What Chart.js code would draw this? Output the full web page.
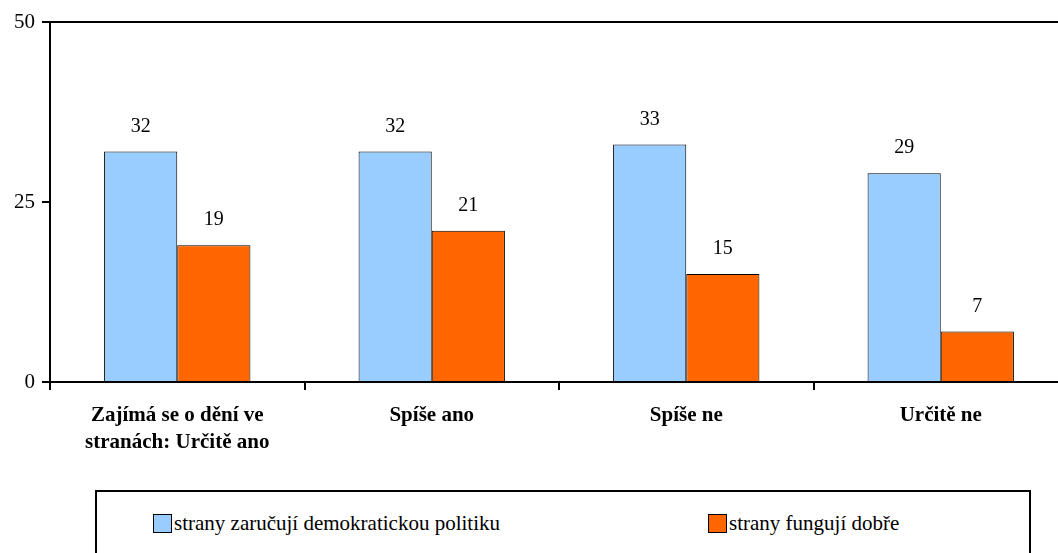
<!DOCTYPE html>
<html>
<head>
<meta charset="utf-8">
<script src="https://cdn.jsdelivr.net/npm/chart.js@4/dist/chart.umd.min.js"></script>
<style>
  html, body { margin: 0; padding: 0; background: #fff; }
  body { width: 1058px; height: 553px; overflow: hidden; position: relative; }
  #wrap { position: absolute; left: 0; top: 0; width: 1070px; height: 470px; }
  #legend {
    position: absolute; left: 95px; top: 490px; width: 936px; height: 80px;
    border: 2px solid #000; box-sizing: border-box;
    font-family: 'Liberation Serif', serif; font-size: 21px; color: #000;
  }
  .item { position: absolute; top: 19px; display: flex; align-items: center; white-space: nowrap; }
  .swatch { width: 17px; height: 17px; border: 1px solid #000; margin-right: 2px; }
</style>
</head>
<body>
<div id="wrap"><canvas id="chart"></canvas></div>
<div id="legend"></div>
<script>
const categories = [
  ['Zajímá se o dění ve', 'stranách: Určitě ano'],
  'Spíše ano',
  'Spíše ne',
  'Určitě ne'
];
const seriesNames = ['strany zaručují demokratickou politiku', 'strany fungují dobře'];
const democratic = [32, 32, 33, 29];
const working = [19, 21, 15, 7];
const yTicks = [0, 25, 50];
const colors = ['#99CCFF', '#FF6600'];

const serif = "'Liberation Serif', serif";
Chart.defaults.font.family = serif;

// value labels above each bar
const valueLabels = {
  id: 'valueLabels',
  afterDatasetsDraw(chart) {
    const ctx = chart.ctx;
    ctx.save();
    ctx.font = '20px ' + serif;
    ctx.fillStyle = '#000';
    ctx.textAlign = 'center';
    ctx.textBaseline = 'middle';
    chart.data.datasets.forEach((ds, i) => {
      chart.getDatasetMeta(i).data.forEach((bar, j) => {
        ctx.fillText(String(ds.data[j]), bar.x, bar.y - 25);
      });
    });
    ctx.restore();
  }
};

new Chart(document.getElementById('chart'), {
  type: 'bar',
  data: {
    labels: categories,
    datasets: [
      { label: seriesNames[0], data: democratic, backgroundColor: colors[0] },
      { label: seriesNames[1], data: working, backgroundColor: colors[1] }
    ]
  },
  options: {
    responsive: true,
    maintainAspectRatio: false,
    animation: false,
    layout: { padding: { top: 22, right: 2, left: 0, bottom: 0 } },
    datasets: {
      bar: {
        borderColor: '#000',
        borderWidth: 1,
        categoryPercentage: 0.575,
        barPercentage: 1
      }
    },
    plugins: {
      legend: { display: false },
      tooltip: { enabled: false }
    },
    scales: {
      x: {
        grid: {
          offset: true,
          drawOnChartArea: false,
          drawTicks: true,
          tickLength: 8,
          color: '#000',
          lineWidth: 2
        },
        border: { color: '#000', width: 2 },
        ticks: {
          color: '#000',
          padding: 12,
          maxRotation: 0,
          autoSkip: false,
          font: { family: serif, size: 21, weight: 'bold', lineHeight: 1.3 }
        },
        afterFit(scale) { scale.height = 88; }
      },
      y: {
        min: 0,
        max: 50,
        afterBuildTicks(scale) { scale.ticks = yTicks.map(v => ({ value: v })); },
        grid: {
          color: c => (c.tick && c.tick.value === 50 ? '#000' : 'rgba(0,0,0,0)'),
          tickColor: '#000',
          lineWidth: 2,
          tickLength: 8
        },
        border: { color: '#000', width: 2 },
        ticks: {
          color: '#000',
          padding: 7,
          font: { family: serif, size: 21 }
        },
        afterFit(scale) { scale.width = 50; }
      }
    }
  },
  plugins: [valueLabels]
});

// legend box
const legend = document.getElementById('legend');
const itemLeft = [56, 611];
seriesNames.forEach((name, i) => {
  const item = document.createElement('div');
  item.className = 'item';
  item.style.left = itemLeft[i] + 'px';
  const sw = document.createElement('span');
  sw.className = 'swatch';
  sw.style.background = colors[i];
  const tx = document.createElement('span');
  tx.textContent = name;
  item.appendChild(sw);
  item.appendChild(tx);
  legend.appendChild(item);
});
</script>
</body>
</html>
